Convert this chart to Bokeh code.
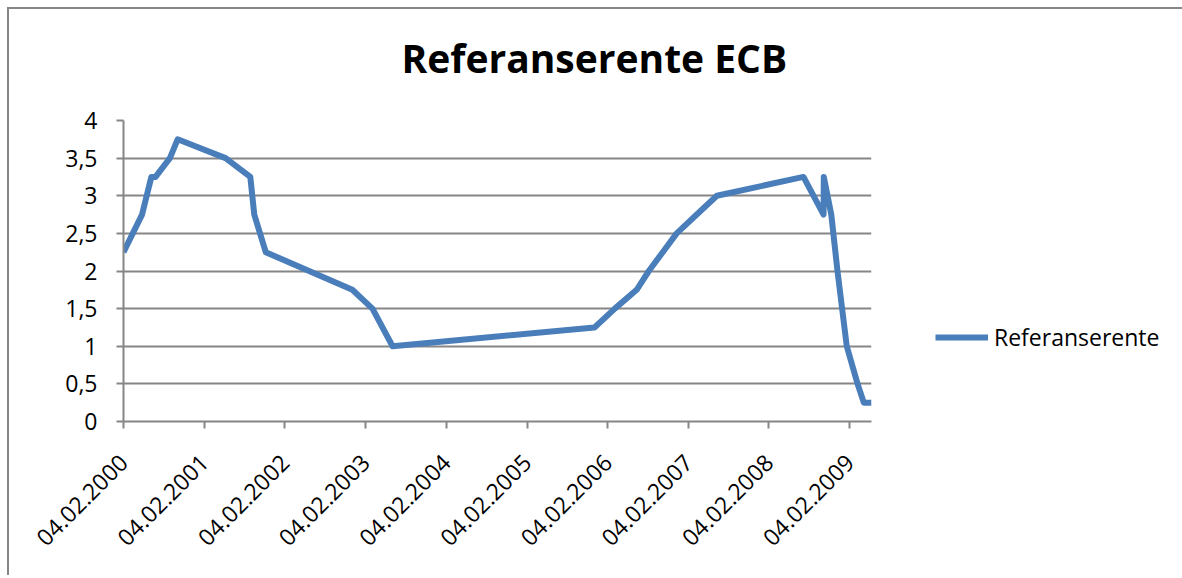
import datetime as dt
from math import pi

from bokeh.plotting import figure
from bokeh.models import (FixedTicker, DatetimeTickFormatter, Legend, LegendItem,
                          Range1d, ColumnDataSource, Title)
from bokeh.embed import file_html
from bokeh.resources import INLINE

# ---- data (ECB reference rate) ----
dates = ["04.02.2000", "17.03.2000", "28.04.2000", "09.06.2000", "28.06.2000",
         "01.09.2000", "06.10.2000", "11.05.2001", "31.08.2001", "18.09.2001",
         "09.11.2001", "06.12.2002", "07.03.2003", "06.06.2003", "06.12.2005",
         "08.03.2006", "15.06.2006", "09.08.2006", "11.10.2006", "13.12.2006",
         "14.03.2007", "13.06.2007", "09.07.2008", "08.10.2008", "09.10.2008",
         "12.11.2008", "10.12.2008", "21.01.2009", "11.03.2009", "08.04.2009",
         "13.05.2009"]
rates = [2.25, 2.5, 2.75, 3.25, 3.25,
         3.5, 3.75, 3.5, 3.25, 2.75,
         2.25, 1.75, 1.5, 1.0, 1.25,
         1.5, 1.75, 2.0, 2.25, 2.5,
         2.75, 3.0, 3.25, 2.75, 3.25,
         2.75, 2.0, 1.0, 0.5, 0.25,
         0.25]
x_tick_labels = ["04.02.2000", "04.02.2001", "04.02.2002", "04.02.2003",
                 "04.02.2004", "04.02.2005", "04.02.2006", "04.02.2007",
                 "04.02.2008", "04.02.2009"]
y_ticks = [0, 0.5, 1, 1.5, 2, 2.5, 3, 3.5, 4]
y_tick_labels = ["0", "0,5", "1", "1,5", "2", "2,5", "3", "3,5", "4"]
title_text = "Referanserente ECB"
series_name = "Referanserente"


def parse(s):
    return dt.datetime.strptime(s, "%d.%m.%Y")


def to_ms(d):
    return (d - dt.datetime(1970, 1, 1)).total_seconds() * 1000.0


xs = [parse(d) for d in dates]
source = ColumnDataSource(data=dict(x=xs, y=rates))

GRAY = "#868686"
FONT = "Open Sans"
BLUE = "#4a7ebb"

p = figure(width=1172, height=568, frame_width=748, frame_height=301,
           x_axis_type="datetime", title=None,
           output_backend="svg", toolbar_location=None,
           x_range=Range1d(xs[0], xs[-1]), y_range=Range1d(0, 4),
           min_border_left=114, min_border_right=310,
           min_border_top=111, min_border_bottom=156)
p.styles = {"margin-left": "9px", "margin-top": "9px",
            "box-shadow": "-2px -2px 0 0 " + GRAY}

p.background_fill_color = "white"
p.border_fill_color = "white"
p.outline_line_color = None

# spacer between title and plot area, then the title itself (outermost)
p.add_layout(Title(text=" ", text_font_size="1px", standoff=32), "above")
p.add_layout(Title(text=title_text, text_font=FONT, text_font_style="bold",
                   text_font_size="39px", text_color="black", align="left",
                   offset=278, standoff=0, vertical_align="top"), "above")

r = p.line("x", "y", source=source, line_color=BLUE, line_width=6,
           line_join="round")

# x axis
xa = p.xaxis[0]
xa.ticker = FixedTicker(ticks=[to_ms(parse(t)) for t in x_tick_labels])
fmt = "%d.%m.%Y"
xa.formatter = DatetimeTickFormatter(microseconds=fmt, milliseconds=fmt, seconds=fmt,
                                     minsec=fmt, minutes=fmt, hourmin=fmt, hours=fmt,
                                     days=fmt, months=fmt, years=fmt)
xa.major_label_orientation = pi / 4
xa.minor_tick_line_color = None
xa.major_label_standoff = 30

# y axis
ya = p.yaxis[0]
ya.ticker = FixedTicker(ticks=y_ticks)
ya.major_label_overrides = {(int(v) if v == int(v) else v): lab
                            for v, lab in zip(y_ticks, y_tick_labels)}
ya.minor_tick_line_color = None
ya.major_label_standoff = 19

for ax in (xa, ya):
    ax.axis_line_color = GRAY
    ax.axis_line_width = 2
    ax.major_tick_line_color = GRAY
    ax.major_tick_line_width = 2
    ax.major_tick_out = 7
    ax.major_tick_in = 0
    ax.major_label_text_font = FONT
    ax.major_label_text_font_size = "23px"
    ax.major_label_text_color = "black"

p.xgrid.visible = False
p.ygrid.grid_line_color = GRAY
p.ygrid.grid_line_width = 2

legend = Legend(items=[LegendItem(label=series_name, renderers=[r])],
                location="bottom_left", glyph_width=53, glyph_height=40,
                label_height=40, label_standoff=6, padding=0, margin=64,
                spacing=0, border_line_alpha=0, background_fill_alpha=0,
                label_text_font=FONT, label_text_font_size="23px",
                label_text_color="black")
p.add_layout(legend, "right")

open("out.html", "w").write(file_html(p, INLINE))
